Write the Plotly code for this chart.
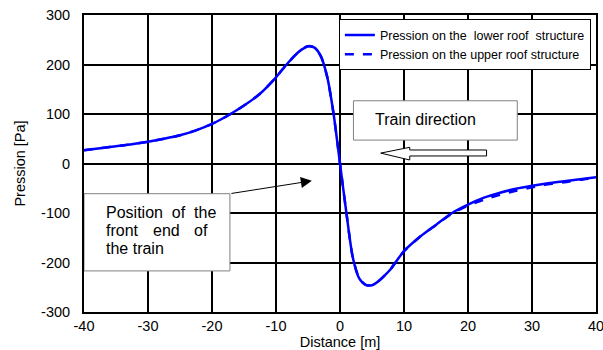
import plotly.graph_objects as go

distance = [-40, -37.5, -35, -32.5, -30, -27.5, -25, -22.5, -20, -17.5, -15, -12.5, -10, -9, -8, -7, -6,
            -5, -4, -3, -2, -1, 0, 1, 2, 3, 4, 5, 6, 7, 8, 9, 10, 12.5, 15, 17.5, 20, 22.5, 25,
            27.5, 30, 32.5, 35, 37.5, 40]
lower_roof = [27, 31, 35, 39, 44, 50, 57, 67, 80, 97, 117, 141, 174, 190, 205, 219, 230,
              237, 234, 217, 175, 100, 0, -100, -190, -232, -245, -246, -238, -226, -212, -194, -177,
              -148, -124, -100, -83, -69, -59, -51, -45, -40, -36, -32, -28]
upper_roof = [27, 31, 35, 39, 44, 50, 57, 67, 80, 97, 117, 141, 174, 190, 205, 219, 230,
              237, 234, 217, 175, 100, 0, -100, -190, -232, -245, -246, -238, -226, -212, -194, -177,
              -148, -124, -101, -85, -73, -63, -55, -48, -42, -38, -33, -29]

x_ticks = [-40, -30, -20, -10, 0, 10, 20, 30, 40]
y_ticks = [-300, -200, -100, 0, 100, 200, 300]

FONT = "Liberation Sans, Arial, sans-serif"
BLUE = "#0000ff"

fig = go.Figure()
fig.add_trace(go.Scatter(x=distance, y=lower_roof, mode="lines", line=dict(color=BLUE, width=2.5, shape="spline", smoothing=0.7),
                         name="Pression on the  lower roof  structure"))
fig.add_trace(go.Scatter(x=distance, y=upper_roof, mode="lines", line=dict(color=BLUE, width=2.5, dash="dash", shape="spline", smoothing=0.7),
                         name="Pression on the upper roof structure"))

ann_font = dict(family=FONT, size=16, color="black")

# Train direction box
fig.add_shape(type="rect", x0=2.1, x1=27.7, y0=47.3, y1=126.7, xref="x", yref="y",
              fillcolor="white", line=dict(color="#808080", width=1), layer="above")
fig.add_annotation(x=5.2, y=88, xref="x", yref="y", text="Train direction", showarrow=False,
                   xanchor="left", font=ann_font)
# hollow arrow
fig.add_shape(type="path", xref="x", yref="y",
              path="M 6.36 21 L 10.9 32.7 L 10.9 27.3 L 22.9 27.3 L 22.9 15.2 L 10.9 15.2 L 10.9 7.1 Z",
              fillcolor="white", line=dict(color="black", width=1), layer="above")

# Position box
fig.add_shape(type="rect", x0=-40, x1=-17.2, y0=-217, y1=-61, xref="x", yref="y",
              fillcolor="white", line=dict(color="#808080", width=1), layer="above")
fig.add_annotation(x=-36.9, y=-99.6, xref="x", yref="y", text="Position  of  the", showarrow=False,
                   xanchor="left", font=ann_font)
fig.add_annotation(x=-36.9, y=-136, xref="x", yref="y", text="front", showarrow=False,
                   xanchor="left", font=ann_font)
fig.add_annotation(x=-27.1, y=-136, xref="x", yref="y", text="end", showarrow=False,
                   xanchor="center", font=ann_font)
fig.add_annotation(x=-20.3, y=-136, xref="x", yref="y", text="of", showarrow=False,
                   xanchor="right", font=ann_font)
fig.add_annotation(x=-36.9, y=-172, xref="x", yref="y", text="the train", showarrow=False,
                   xanchor="left", font=ann_font)
fig.add_annotation(x=-4.4, y=-35, ax=-17.2, ay=-61, xref="x", yref="y", axref="x", ayref="y",
                   text="", showarrow=True, arrowhead=2, arrowsize=2.2, arrowwidth=1, arrowcolor="black")

fig.update_layout(
    width=603, height=350,
    margin=dict(l=84, r=7, t=15, b=38),
    paper_bgcolor="white", plot_bgcolor="white",
    font=dict(family=FONT, size=14, color="black"),
    showlegend=True,
    legend=dict(x=0.99, y=0.985, xanchor="right", yanchor="top", bgcolor="white",
                bordercolor="black", borderwidth=1, font=dict(family=FONT, size=12.5, color="black"),
                tracegroupgap=0, itemwidth=30),
    xaxis=dict(range=[-40, 40], tickvals=x_ticks, ticktext=[str(v) for v in x_ticks],
               showgrid=True, gridcolor="black", gridwidth=2, zeroline=False,
               showline=True, linecolor="black", linewidth=2, mirror=True, ticks="",
               title=dict(text="Distance [m]", font=dict(size=14.5), standoff=0),
               tickfont=dict(size=14.5), automargin=False, ticklabeloverflow="allow"),
    yaxis=dict(range=[-300, 300], tickvals=y_ticks, ticktext=[str(v) for v in y_ticks],
               showgrid=True, gridcolor="black", gridwidth=2, zeroline=False,
               showline=True, linecolor="black", linewidth=2, mirror=True, ticks="",
               title=dict(text="Pression [Pa]", font=dict(size=14.5), standoff=12),
               tickfont=dict(size=14.5), automargin=False, ticklabeloverflow="allow",
               ticklabelstandoff=9),
)

fig.write_html("out.html", config={"displayModeBar": False},
               post_script="document.body.style.margin='0';document.body.style.overflow='hidden';")
